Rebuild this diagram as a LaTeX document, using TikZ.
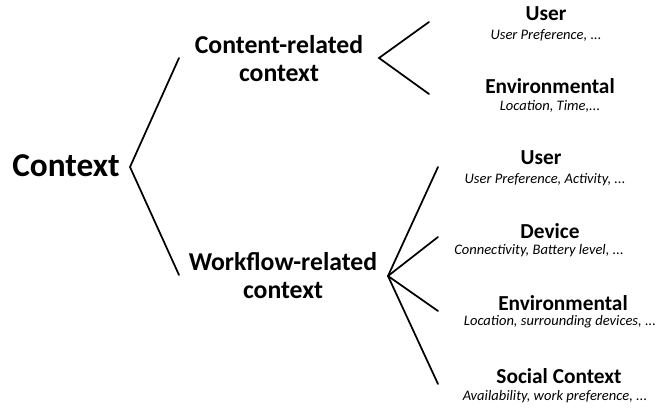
\documentclass[tikz,border=0pt]{standalone}
\usepackage{fontspec}
\setmainfont{Carlito}
\begin{document}
\begin{tikzpicture}[x=0.75pt,y=-0.75pt,
  every node/.style={inner sep=0pt,outer sep=0pt,anchor=center},
  root/.style={font=\fontsize{25}{28}\selectfont\bfseries},
  mid/.style={font=\fontsize{19.3}{21}\selectfont\bfseries,align=center},
  ttl/.style={font=\fontsize{16}{19}\selectfont\bfseries},
  sub/.style={font=\fontsize{10.9}{13}\selectfont\itshape},
  conn/.style={line width=1.3pt,line cap=round}]
\useasboundingbox (0,0) rectangle (662,409);
\node[root] (ctx) at (66,166) {Context};
\node[mid] (cr) at (279,59) {Content-related\\context};
\node[mid] (wr) at (283,276) {Workflow-related\\context};
\node[ttl] (u1) at (546,14) {User};
\node[sub] (u1s) at (546,35) {User Preference, ...};
\node[ttl] (e1) at (550,86) {Environmental};
\node[sub] (e1s) at (550,106) {Location, Time,...};
\node[ttl] (u2) at (541,158) {User};
\node[sub] (u2s) at (545,180) {User Preference, Activity, ...};
\node[ttl] (d) at (550,231) {Device};
\node[sub] (ds) at (539,251) {Connectivity, Battery level, ...};
\node[ttl] (e2) at (563,303) {Environmental};
\node[sub] (e2s) at (560,322) {Location, surrounding devices, ...};
\node[ttl] (s) at (559,376) {Social Context};
\node[sub] (ss) at (555,397) {Availability, work preference, ...};
% fork points
\coordinate (v0) at (130,167);
\coordinate (a1) at (179,58);
\coordinate (a2) at (179,275);
\coordinate (v1) at (379,58);
\coordinate (b1) at (429,22);
\coordinate (b2) at (429,94);
\coordinate (v2) at (388,276);
\coordinate (c1) at (438,167);
\coordinate (c2) at (438,237);
\coordinate (c3) at (438,311);
\coordinate (c4) at (438,384);
\draw[conn] (a1) -- (v0) -- (a2);
\draw[conn] (b1) -- (v1) -- (b2);
\draw[conn] (v2) -- (c1);
\draw[conn] (v2) -- (c2);
\draw[conn] (v2) -- (c3);
\draw[conn] (v2) -- (c4);
\end{tikzpicture}
\end{document}
